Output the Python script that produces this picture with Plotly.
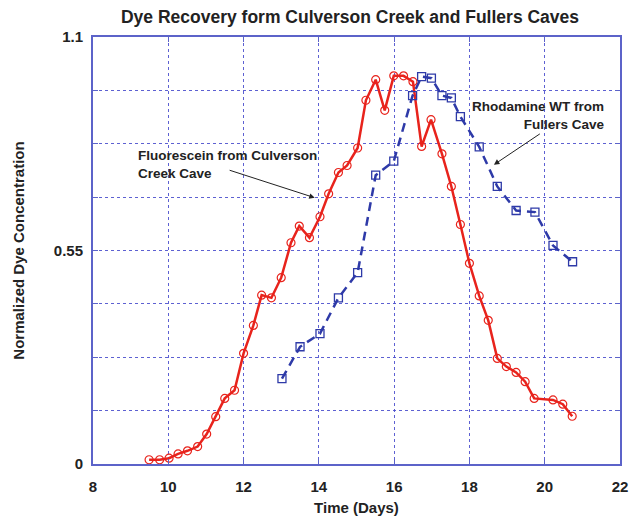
import plotly.graph_objects as go

# Fluorescein (Culverson Creek Cave) – time in days, normalized concentration
fluor_days = [9.49, 9.77, 10.02, 10.26, 10.51, 10.78, 11.02, 11.26, 11.50, 11.76,
              12.00, 12.26, 12.48, 12.74, 13.00, 13.26, 13.48, 13.75, 14.03, 14.26,
              14.52, 14.75, 15.03, 15.25, 15.51, 15.75, 15.99, 16.25, 16.50, 16.73,
              16.98, 17.27, 17.52, 17.76, 18.00, 18.26, 18.50, 18.74, 18.98, 19.24,
              19.48, 19.72, 20.22, 20.48, 20.73]
fluor_conc = [0.011, 0.011, 0.015, 0.026, 0.034, 0.045, 0.077, 0.122, 0.169, 0.190,
              0.285, 0.357, 0.435, 0.428, 0.480, 0.570, 0.613, 0.583, 0.637, 0.696,
              0.751, 0.769, 0.814, 0.937, 0.990, 0.911, 1.000, 1.000, 0.985, 0.818,
              0.887, 0.799, 0.715, 0.617, 0.517, 0.433, 0.370, 0.272, 0.251, 0.236,
              0.212, 0.169, 0.165, 0.154, 0.123]

# Rhodamine WT (Fullers Cave)
rhod_days = [13.02, 13.50, 14.03, 14.52, 15.03, 15.51, 15.99, 16.49, 16.73, 16.99,
             17.27, 17.52, 17.76, 18.26, 18.74, 19.24, 19.74, 20.22, 20.74]
rhod_conc = [0.220, 0.302, 0.336, 0.428, 0.493, 0.744, 0.780, 0.949, 0.998, 0.994,
             0.949, 0.943, 0.895, 0.817, 0.715, 0.653, 0.649, 0.563, 0.521]

x_ticks = [8, 10, 12, 14, 16, 18, 20, 22]
y_grid = [i * 1.1 / 8 for i in range(9)]
y_labels = ["0", "", "", "", "0.55", "", "", "", "1.1"]

RED = "#e8231c"
BLUE = "#2e3aa8"
GRID = "rgba(75,80,205,0.9)"
FRAME = "#5c63c9"
FONT = "Liberation Sans, Arial, sans-serif"

fig = go.Figure()

fig.add_trace(go.Scatter(
    x=fluor_days, y=fluor_conc, mode="lines+markers",
    line=dict(color=RED, width=2.5),
    marker=dict(symbol="circle-open", size=8, color=RED, line=dict(width=1.2)),
    name="Fluorescein", showlegend=False,
))
fig.add_trace(go.Scatter(
    x=rhod_days, y=rhod_conc, mode="lines+markers",
    line=dict(color=BLUE, width=2.5, dash="9px,6px"),
    marker=dict(symbol="square-open", size=8, color=BLUE, line=dict(width=1.3)),
    name="Rhodamine WT", showlegend=False,
))

arrow_common = dict(showarrow=True, arrowhead=2, arrowsize=1.1, arrowwidth=1,
                    arrowcolor="#222222", axref="x", ayref="y", text="")
fig.add_annotation(x=13.89, y=0.686, ax=11.59, ay=0.758, **arrow_common)
fig.add_annotation(x=18.65, y=0.771, ax=19.91, ay=0.853, **arrow_common)

label_font = dict(family=FONT, size=13.5, color="#222222", weight="bold")
fig.add_annotation(x=9.13, y=0.771, xanchor="left", yanchor="middle",
                   text="Fluorescein from Culverson<br>Creek Cave", align="left",
                   showarrow=False, font=label_font)
fig.add_annotation(x=21.63, y=0.897, xanchor="right", yanchor="middle",
                   text="Rhodamine WT from<br>Fullers Cave", align="right",
                   showarrow=False, font=label_font)

axis_font = dict(family=FONT, size=15, color="#222222", weight="bold")
fig.update_xaxes(
    range=[8, 22], tickvals=x_ticks, ticktext=[str(v) for v in x_ticks],
    showgrid=True, gridcolor=GRID, gridwidth=1.2, griddash="dot",
    showline=True, linecolor=FRAME, linewidth=2, mirror="ticks",
    ticks="inside", ticklen=5, tickcolor=FRAME, zeroline=False,
    tickfont=axis_font, ticklabelstandoff=8,
    title=dict(text="Time (Days)", font=axis_font, standoff=8),
)
fig.update_yaxes(
    range=[0, 1.1], tickvals=y_grid, ticktext=y_labels,
    showgrid=True, gridcolor=GRID, gridwidth=1.2, griddash="dot",
    showline=True, linecolor=FRAME, linewidth=2, mirror="ticks",
    ticks="inside", ticklen=5, tickcolor=FRAME, zeroline=False,
    tickfont=axis_font, ticklabelstandoff=5,
    title=dict(text="Normalized Dye Concentration", font=axis_font, standoff=26),
)

fig.update_layout(
    width=640, height=526,
    margin=dict(l=93, r=12, t=37, b=61),
    plot_bgcolor="white", paper_bgcolor="white",
    title=dict(text="Dye Recovery form Culverson Creek and Fullers Caves",
               x=350 / 640, xanchor="center", y=1 - 17 / 526, yanchor="middle",
               font=dict(family=FONT, size=17.5, color="#222222", weight="bold")),
)

fig.write_html("out.html")
